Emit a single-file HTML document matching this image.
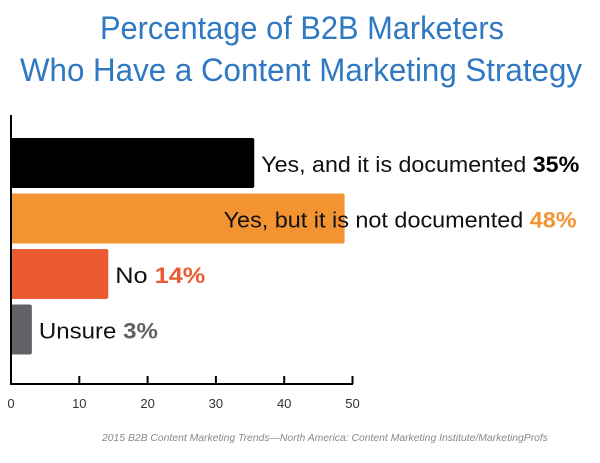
<!DOCTYPE html>
<html><head><meta charset="utf-8"><style>
html,body{margin:0;padding:0;background:#fff;}
svg{display:block;font-family:"Liberation Sans",sans-serif;}
</style></head><body>
<svg id="chart" width="600" height="463" viewBox="0 0 600 463">
<text x="302" y="39" text-anchor="middle" font-size="32" fill="#2f78c2" textLength="404" lengthAdjust="spacingAndGlyphs">Percentage of B2B Marketers</text>
<text x="301" y="81" text-anchor="middle" font-size="32" fill="#2f78c2" textLength="562" lengthAdjust="spacingAndGlyphs">Who Have a Content Marketing Strategy</text>
<g id="bars"></g>
<line x1="11" y1="115" x2="11" y2="384" stroke="#000" stroke-width="2"/>
<line x1="10" y1="384" x2="353" y2="384" stroke="#000" stroke-width="2"/>
<g id="ticks"></g>
<text x="325" y="441" text-anchor="middle" font-size="10.5" font-style="italic" fill="#888" textLength="446" lengthAdjust="spacingAndGlyphs">2015 B2B Content Marketing Trends—North America: Content Marketing Institute/MarketingProfs</text>
</svg>
<script>
const categories = ["Yes, and it is documented", "Yes, but it is not documented", "No", "Unsure"];
const values = [35, 48, 14, 3];
const valueLabels = ["35%", "48%", "14%", "3%"];
const tickValues = [0, 10, 20, 30, 40, 50];
const colors = ["#000000", "#f39332", "#ec5a32", "#606266"];
const pctColors = ["#000000", "#f39332", "#ec5a32", "#606266"];
const labelWidths = [318, 353, 90, 119];

const NS = "http://www.w3.org/2000/svg";
const x0 = 11, xMax = 50, barUnit = 6.95, tickUnit = 6.83;
const xBar = v => x0 + v * barUnit;
const xTick = v => x0 + v * tickUnit;
const bandTop = 138, bandStep = 55.5, barH = 50;
const yBand = i => bandTop + i * bandStep;

const gb = document.getElementById("bars");
values.forEach((v, i) => {
  const r = document.createElementNS(NS, "rect");
  r.setAttribute("x", x0);
  r.setAttribute("y", yBand(i));
  r.setAttribute("width", xBar(v) - x0);
  r.setAttribute("height", barH);
  r.setAttribute("rx", 2);
  r.setAttribute("fill", colors[i]);
  
  
  gb.appendChild(r);
  const t = document.createElementNS(NS, "text");
  t.setAttribute("x", xBar(v) + 7 - (i === 1 ? 128 : 0));
  t.setAttribute("y", yBand(i) + 34);
  t.setAttribute("font-size", "22");
  t.setAttribute("fill", "#111");
  t.setAttribute("textLength", labelWidths[i]);
  t.setAttribute("lengthAdjust", "spacingAndGlyphs");
  
  
  t.appendChild(document.createTextNode(categories[i] + " "));
  const s = document.createElementNS(NS, "tspan");
  s.setAttribute("font-weight", "bold");
  s.setAttribute("fill", pctColors[i]);
  s.textContent = valueLabels[i];
  t.appendChild(s);
  gb.appendChild(t);
});

const gt = document.getElementById("ticks");
tickValues.forEach(v => {
  const l = document.createElementNS(NS, "line");
  l.setAttribute("x1", xTick(v)); l.setAttribute("x2", xTick(v));
  l.setAttribute("y1", 376); l.setAttribute("y2", 384);
  l.setAttribute("stroke", "#000"); l.setAttribute("stroke-width", "2");
  
  
  if (v !== 0) gt.appendChild(l);
  const t = document.createElementNS(NS, "text");
  t.setAttribute("x", xTick(v));
  t.setAttribute("y", 408);
  t.setAttribute("text-anchor", "middle");
  t.setAttribute("font-size", "13");
  t.setAttribute("fill", "#333");
  
  
  t.textContent = v;
  gt.appendChild(t);
});
</script>
</body></html>
